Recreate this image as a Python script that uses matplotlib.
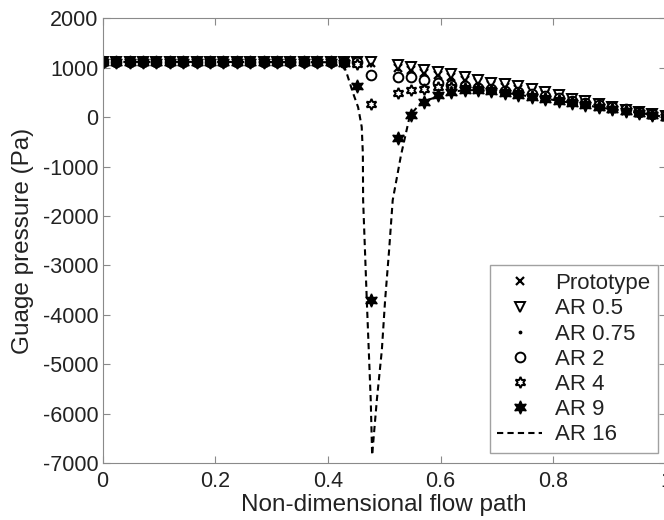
import numpy as np
import matplotlib.pyplot as plt

plt.rcParams['font.family'] = ['Liberation Sans', 'DejaVu Sans']
plt.rcParams['axes.unicode_minus'] = False

# Flow path stations (markers), no station at the throat 0.5
x = [0.0, 0.024, 0.048, 0.071, 0.095, 0.119, 0.143, 0.167, 0.19, 0.214, 0.238,
     0.262, 0.286, 0.31, 0.333, 0.357, 0.381, 0.405, 0.429, 0.452, 0.476,
     0.524, 0.548, 0.571, 0.595, 0.619, 0.643, 0.667, 0.69, 0.714, 0.738,
     0.762, 0.786, 0.81, 0.833, 0.857, 0.881, 0.905, 0.929, 0.952, 0.976, 1.0]

flat = [1120] * 18

ar05 = flat + [1120, 1120, 1120,
               1053, 1018, 965, 917, 870, 816, 763, 702, 668, 628, 580,
               513, 445, 378, 324, 263, 209, 155, 108, 74, 20]
prototype = flat + [1110, 1100, 1090,
                    995, 960, 905, 860, 810, 760, 705, 650, 615, 575, 530,
                    465, 400, 335, 285, 225, 175, 125, 85, 50, 5]
ar075 = flat + [1105, 1095, 1080,
                985, 950, 895, 850, 800, 750, 695, 640, 605, 565, 520,
                455, 390, 325, 275, 215, 165, 118, 80, 45, 3]
ar2 = flat + [1115, 1110, 850,
              816, 816, 763, 700, 660, 625, 600, 575, 540, 505, 465,
              425, 380, 335, 290, 240, 200, 160, 115, 70, 15]
ar4 = flat + [1110, 1080, 270,
              480, 547, 580, 610, 620, 600, 580, 555, 515, 480, 435,
              395, 350, 305, 260, 215, 175, 135, 95, 50, 5]
ar9 = flat + [1090, 630, -3700,
              -420, 40, 310, 445, 513, 547, 547, 526, 492, 459, 411,
              378, 330, 290, 243, 200, 160, 125, 90, 45, 0]

# AR 16 curve (finer resolution)
x16 = [0.0, 0.2, 0.402, 0.43, 0.4335, 0.4447, 0.4536, 0.46, 0.462, 0.4625,
       0.469, 0.476, 0.4785, 0.4868, 0.4957, 0.5015, 0.5086, 0.515, 0.5297,
       0.5456, 0.5667, 0.5867, 0.59, 0.617, 0.643, 0.667, 0.69, 0.714, 0.738,
       0.762, 0.786, 0.81, 0.833, 0.857, 0.881, 0.905, 0.929, 0.952, 0.976, 1.0]
ar16 = [1120, 1120, 1113, 992, 885, 486, 202, -196, -729, -1680,
        -3704, -5729, -6842, -5729, -4717, -3704, -2692, -1680, -769,
        40, 310, 385, 411, 512, 547, 547, 526, 492, 459, 411,
        378, 330, 290, 243, 200, 160, 125, 90, 45, 0]

fig = plt.figure(figsize=(6.64, 5.2), dpi=100)
ax = fig.add_axes([0.1544, 0.1096, 0.8486, 0.855])

ax.plot(x, prototype, 'x', color='black', ms=6, mew=1.6, label='Prototype')
ax.plot(x, ar05, 'v', mfc='white', mec='black', ms=7.5, mew=1.4, label='AR 0.5')
ax.plot(x, ar075, '.', color='black', ms=3.5, label='AR 0.75')
ax.plot(x, ar2, 'o', mfc='white', mec='black', ms=7, mew=1.4, label='AR 2')
ax.plot(x, ar4, marker=(6, 1, 0), ls='none', mfc='white', mec='black', ms=8,
        mew=1.4, label='AR 4')
ax.plot(x, ar9, marker=(6, 1, 0), ls='none', color='black', ms=9.5, label='AR 9')
ax.plot(x16, ar16, '--', color='black', lw=1.5, dashes=(3, 2), label='AR 16')

ax.set_xlim(0, 1)
ax.set_ylim(-7000, 2000)
ax.set_xticks([0, 0.2, 0.4, 0.6, 0.8, 1])
ax.set_xticklabels(['0', '0.2', '0.4', '0.6', '0.8', '1'])
ax.set_yticks(np.arange(-7000, 2001, 1000))

for s in ax.spines.values():
    s.set_color('#8a8a8a')
ax.tick_params(direction='in', length=5, color='#8a8a8a', labelsize=15.5,
               labelcolor='#222222', top=True, right=True, pad=3)
ax.tick_params(axis='x', pad=6)

ax.set_xlabel('Non-dimensional flow path', fontsize=17.5, color='#222222', labelpad=1)
ax.set_ylabel('Guage pressure (Pa)', fontsize=17.5, color='#222222', labelpad=6)

leg = ax.legend(loc='lower right', bbox_to_anchor=(0.986, 0.022), fontsize=16,
                frameon=True, fancybox=False, edgecolor='#8a8a8a',
                labelspacing=0.19, handlelength=2.0, handletextpad=0.6,
                borderpad=0.35, borderaxespad=0, labelcolor='#222222')
leg.get_frame().set_linewidth(1.0)

fig.savefig('out.png', dpi=100)
